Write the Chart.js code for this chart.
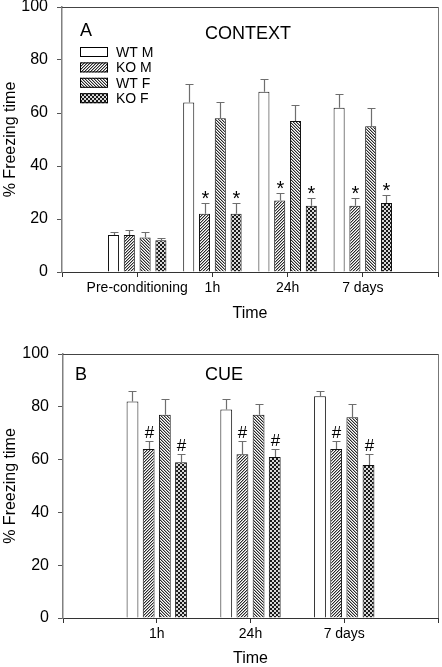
<!DOCTYPE html>
<html>
<head>
<meta charset="utf-8">
<script src="https://cdn.jsdelivr.net/npm/chart.js@4/dist/chart.umd.min.js"></script>
<style>
  html, body { margin: 0; padding: 0; background: #fff; }
  body { width: 442px; height: 667px; position: relative; overflow: hidden; }
  .box { position: absolute; left: 0; width: 442px; }
  #boxA { top: 0; height: 325px; }
  #boxB { top: 330px; height: 337px; }
</style>
</head>
<body>
<div class="box" id="boxA"><canvas id="chartA"></canvas></div>
<div class="box" id="boxB"><canvas id="chartB"></canvas></div>
<script>
// ---------- DATA ----------
const seriesNames = ['WT M', 'KO M', 'WT F', 'KO F'];

// Panel A: CONTEXT
const categoriesA = ['Pre-conditioning', '1h', '24h', '7 days'];
const wtM_A = [14, 64, 68, 62];
const koM_A = [14, 22, 27, 25];
const wtF_A = [13, 58, 57, 55];
const koF_A = [12, 22, 25, 26];
const wtM_A_err = [1, 7, 5, 5];
const koM_A_err = [2, 4, 3, 3];
const wtF_A_err = [2, 6, 6, 7];
const koF_A_err = [1, 4, 3, 3];
const wtM_A_sig = ['', '', '', ''];
const koM_A_sig = ['', '*', '*', '*'];
const wtF_A_sig = ['', '', '', ''];
const koF_A_sig = ['', '*', '*', '*'];

// Panel B: CUE
const categoriesB = ['1h', '24h', '7 days'];
const wtM_B = [82, 79, 84];
const koM_B = [64, 62, 64];
const wtF_B = [77, 77, 76];
const koF_B = [59, 61, 58];
const wtM_B_err = [4, 4, 2];
const koM_B_err = [3, 5, 3];
const wtF_B_err = [6, 4, 5];
const koF_B_err = [3, 3, 4];
const wtM_B_sig = ['', '', ''];
const koM_B_sig = ['#', '#', '#'];
const wtF_B_sig = ['', '', ''];
const koF_B_sig = ['#', '#', '#'];

const yTicks = [0, 20, 40, 60, 80, 100];

// ---------- STYLE HELPERS ----------
const FONT = "'Liberation Sans', Arial, Helvetica, sans-serif";

function tile(size, painter) {
  const c = document.createElement('canvas');
  c.width = size; c.height = size;
  const g = c.getContext('2d');
  g.fillStyle = '#fff';
  g.fillRect(0, 0, size, size);
  painter(g);
  return g.createPattern(c, 'repeat');
}
function px(g, x, y, col) { g.fillStyle = col; g.fillRect(x, y, 1, 1); }
const patWhite = '#ffffff';
const patFwd = tile(3, g => {           // "/" hatch
  for (let i = 0; i < 3; i++) { px(g, 2 - i, i, '#2a2a2a'); px(g, (3 - i) % 3, i, '#a8a8a8'); }
});
const patBack = tile(3, g => {          // "\" hatch
  for (let i = 0; i < 3; i++) { px(g, i, i, '#2a2a2a'); px(g, (i + 1) % 3, i, '#a8a8a8'); }
});
const patCheck = tile(4, g => {         // checker
  g.fillStyle = '#1a1a1a';
  g.fillRect(0, 0, 2, 2);
  g.fillRect(2, 2, 2, 2);
  g.fillStyle = '#d8d8d8';
  g.fillRect(2, 0, 2, 2);
  g.fillRect(0, 2, 2, 2);
});
const fills = [patWhite, patFwd, patBack, patCheck];

// ---------- PLUGIN: error bars, marks, frame, labels, legend ----------
const decorPlugin = {
  id: 'decor',
  afterDatasetsDraw(chart, args, opts) {
    const ctx = chart.ctx;
    const ys = chart.scales.y;
    const ca = chart.chartArea;
    ctx.save();
    // error bars and significance marks
    chart.data.datasets.forEach((ds, di) => {
      const meta = chart.getDatasetMeta(di);
      meta.data.forEach((bar, i) => {
        const v = ds.data[i].y;
        const e = ds.errors[i];
        const x = Math.round(bar.x) + 0.5;
        const yTop = ys.getPixelForValue(v);
        const yErr = Math.round(ys.getPixelForValue(v + e)) + 0.5;
        ctx.strokeStyle = '#6e6e6e';
        ctx.lineWidth = 1.2;
        ctx.beginPath();
        ctx.moveTo(x, yTop);
        ctx.lineTo(x, yErr);
        ctx.moveTo(x - 4, yErr);
        ctx.lineTo(x + 4, yErr);
        ctx.stroke();
        const s = ds.sig[i];
        if (s) {
          ctx.fillStyle = '#000';
          ctx.textAlign = 'center';
          ctx.textBaseline = 'alphabetic';
          if (s === '*') {
            ctx.font = '20px ' + FONT;
            ctx.fillText(s, x, yErr + 1);
          } else {
            ctx.font = '17px ' + FONT;
            ctx.fillText(s, x, yErr - 4);
          }
        }
      });
    });
    // frame top & right
    ctx.lineWidth = 1;
    ctx.strokeStyle = '#444';
    ctx.beginPath();
    ctx.moveTo(ca.left, Math.round(ca.top) + 0.5);
    ctx.lineTo(Math.round(ca.right) + 0.5, Math.round(ca.top) + 0.5);
    ctx.stroke();
    ctx.strokeStyle = '#777';
    ctx.beginPath();
    ctx.moveTo(Math.round(ca.right) + 0.5, ca.top);
    ctx.lineTo(Math.round(ca.right) + 0.5, ca.bottom);
    ctx.stroke();
    // panel letter and title
    ctx.fillStyle = '#000';
    ctx.font = '18px ' + FONT;
    ctx.textBaseline = 'middle';
    ctx.textAlign = 'left';
    ctx.fillText(opts.letter, opts.letterX, opts.letterY);
    ctx.textAlign = 'center';
    ctx.fillText(opts.title, opts.titleX, opts.titleY);
    // legend
    if (opts.legend) {
      const L = opts.legend;
      ctx.font = '14px ' + FONT;
      ctx.textAlign = 'left';
      chart.data.datasets.forEach((ds, di) => {
        const cy = L.y + di * L.step;
        ctx.fillStyle = ds.backgroundColor;
        ctx.fillRect(L.x, cy - 5, 28, 10);
        ctx.strokeStyle = '#000';
        ctx.lineWidth = 1;
        ctx.strokeRect(L.x + 0.5, cy - 4.5, 27, 9);
        ctx.fillStyle = '#000';
        ctx.fillText(ds.label, L.x + 36, cy + 1);
      });
    }
    ctx.restore();
  }
};

function makeChart(id, cats, vals, errs, sigs, cfg) {
  const datasets = vals.map((arr, si) => ({
    label: seriesNames[si],
    data: arr.map((v, i) => ({ x: i + 1, y: v })),
    errors: errs[si],
    sig: sigs[si],
    backgroundColor: fills[si],
    borderColor: '#111',
    borderWidth: 1,
    categoryPercentage: cfg.cp,
    barPercentage: cfg.bp
  }));
  return new Chart(document.getElementById(id), {
    type: 'bar',
    data: { datasets },
    options: {
      responsive: true,
      maintainAspectRatio: false,
      animation: false,
      events: [],
      layout: { padding: cfg.padding },
      plugins: {
        legend: { display: false },
        tooltip: { enabled: false },
        decor: cfg.decor
      },
      scales: {
        x: {
          type: 'linear',
          min: 0,
          max: cats.length + 1,
          offset: false,
          grid: { offset: false, drawOnChartArea: false, drawTicks: true, tickLength: 5, tickColor: '#333', tickWidth: 1 },
          border: { display: true, color: '#333', width: 1 },
          ticks: {
            stepSize: 1,
            autoSkip: false,
            maxRotation: 0,
            padding: cfg.xTickPad,
            color: '#000',
            font: { family: FONT, size: 14 },
            callback: (v) => (v >= 1 && v <= cats.length) ? cats[v - 1] : ''
          },
          title: { display: true, text: 'Time', color: '#000', font: { family: FONT, size: 16, lineHeight: 1 }, padding: { top: 0, bottom: cfg.xTitlePad } },
          afterFit: (s) => { s.height = cfg.xHeight; s.paddingLeft = 0; s.paddingRight = 0; }
        },
        y: {
          min: 0,
          max: 100,
          afterBuildTicks: (s) => { s.ticks = yTicks.map(v => ({ value: v })); },
          grid: { drawOnChartArea: false, drawTicks: true, tickLength: 5, tickColor: '#555' },
          border: { display: true, color: '#808080', width: 1.5 },
          ticks: { padding: 9, color: '#000', font: { family: FONT, size: 16 } },
          title: { display: true, text: '% Freezing time', color: '#000', font: { family: FONT, size: 16, lineHeight: 1 }, padding: { top: 3, bottom: 0 } },
          afterFit: (s) => { s.width = cfg.yWidth; s.paddingTop = 0; s.paddingBottom = 0; }
        }
      }
    },
    plugins: [decorPlugin]
  });
}

makeChart('chartA', categoriesA,
  [wtM_A, koM_A, wtF_A, koF_A],
  [wtM_A_err, koM_A_err, wtF_A_err, koF_A_err],
  [wtM_A_sig, koM_A_sig, wtF_A_sig, koF_A_sig],
  {
    cp: 0.84, bp: 0.70,
    padding: { top: 7, right: 4, left: 0, bottom: 0 },
    xHeight: 53, yWidth: 62, xTickPad: 3, xTitlePad: 3,
    decor: { letter: 'A', letterX: 80, letterY: 31, title: 'CONTEXT', titleX: 248, titleY: 34,
             legend: { x: 80, y: 52, step: 15.4 } }
  });

makeChart('chartB', categoriesB,
  [wtM_B, koM_B, wtF_B, koF_B],
  [wtM_B_err, koM_B_err, wtF_B_err, koF_B_err],
  [wtM_B_sig, koM_B_sig, wtF_B_sig, koF_B_sig],
  {
    cp: 0.69, bp: 0.73,
    padding: { top: 24, right: 4, left: 0, bottom: 0 },
    xHeight: 49, yWidth: 63, xTickPad: 3, xTitlePad: 0,
    decor: { letter: 'B', letterX: 75, letterY: 45, title: 'CUE', titleX: 224, titleY: 45 }
  });
</script>
</body>
</html>
